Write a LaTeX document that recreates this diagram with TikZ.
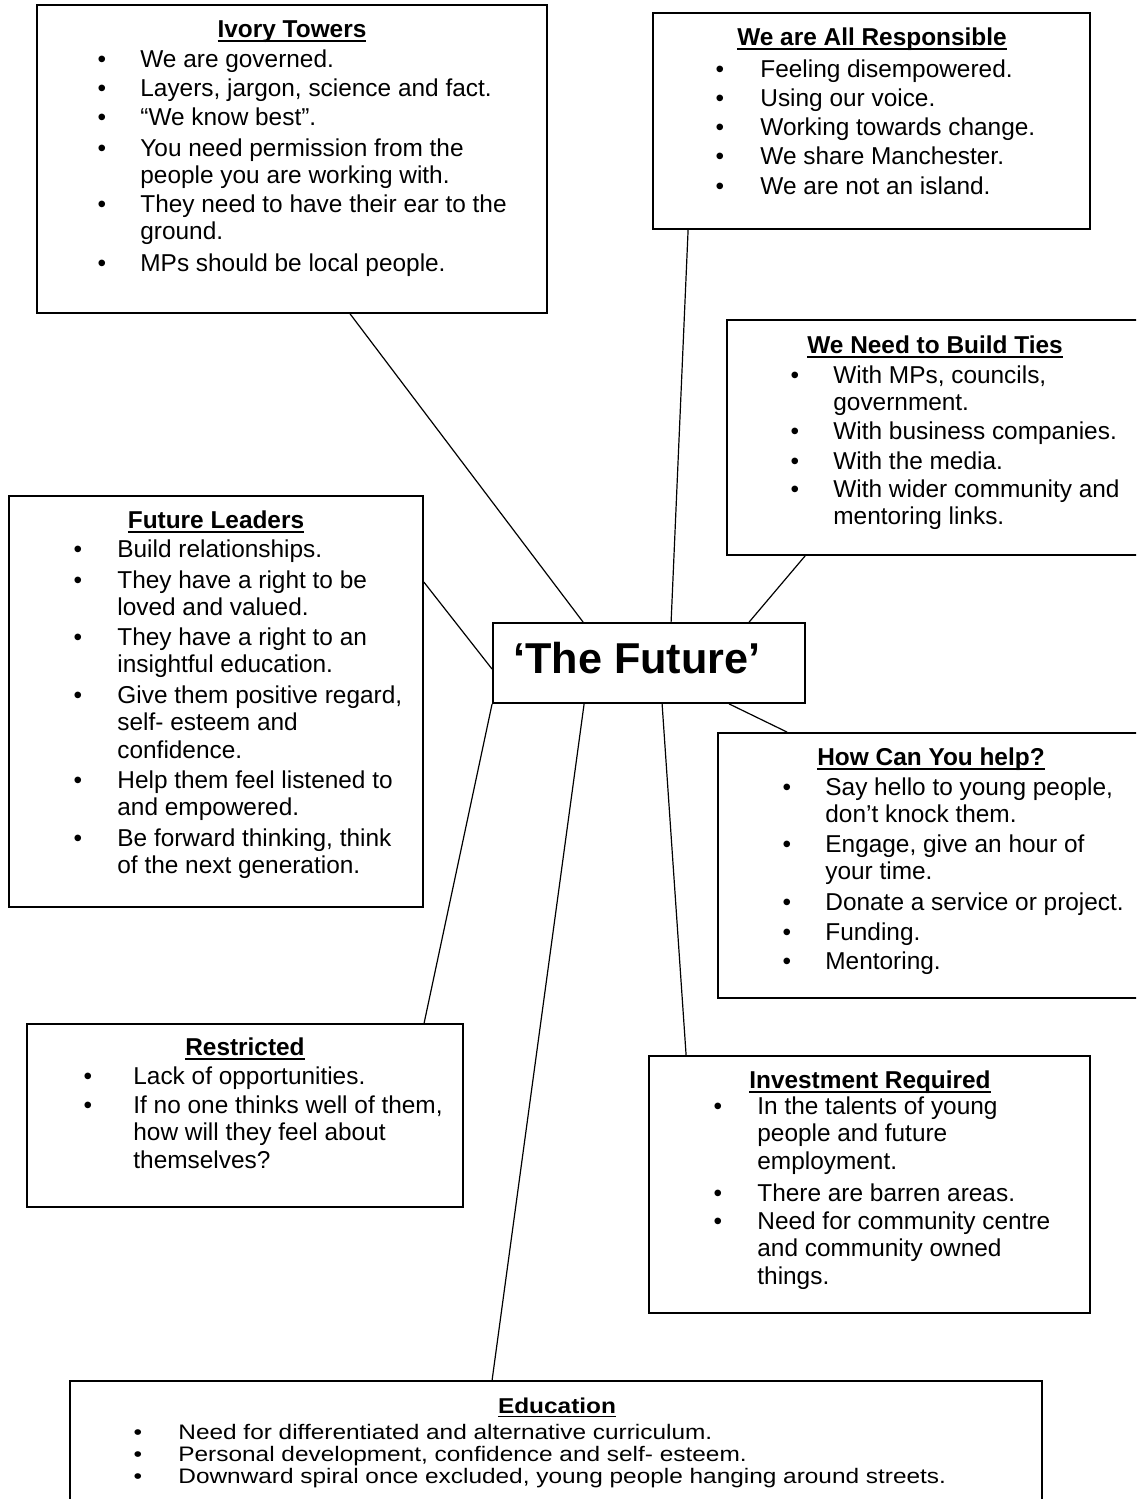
\documentclass[tikz,border=0pt]{standalone}
\usepackage{fontspec}
\usepackage{graphicx}
\setmainfont{Liberation Sans}
\usetikzlibrary{fit,calc}
\newcommand\hdul[1]{\setbox0\hbox{#1}\rlap{\usebox0}\rule[-2.4pt]{\wd0}{0.9pt}}
\tikzset{
  boxst/.style={draw, line width=0.9pt, inner sep=0pt},
  con/.style={line width=0.6pt},
  hd/.style={anchor=base, inner sep=0pt, font=\fontsize{12.2}{13.85}\selectfont\bfseries},
  bul/.style={anchor=base, inner sep=0pt, font=\fontsize{12.2}{13.85}\selectfont},
  itx/.style={anchor=base west, inner sep=0pt, font=\fontsize{12.2}{13.85}\selectfont},
  ttl/.style={anchor=base west, inner sep=0pt, font=\fontsize{21.6}{24}\selectfont\bfseries}
}
\newcommand\itm[5]{\node[bul] (#1b) at (#2,#4) {•};
  \node[itx] (#1) at (#3,#4) {\parbox[t]{400pt}{\raggedright #5}};}
\newcommand\hdn[4]{\node[hd] (#1) at (#2,#3) {\hdul{#4}};}
% slightly squeezed variants for the bottom box
\newcommand\itmq[5]{\node[bul] (#1b) at (#2,#4) {\scalebox{1}[0.86]{•}};
  \node[itx] (#1) at (#3,#4) {\scalebox{1}[0.86]{#5}};}
\newcommand\hdnq[4]{\node[hd] (#1) at (#2,#3) {\scalebox{1}[0.88]{\hdul{#4}}};}
\begin{document}
\begin{tikzpicture}[x=0.5pt,y=-0.5pt]
\useasboundingbox (0,0) rectangle (1136,1499);
\clip (0,0) rectangle (1136,1499);
% boxes
\node[boxst, fit={(37,5)(547,313)}] (ivory) {};
\node[boxst, fit={(653,13)(1090,229)}] (resp) {};
\node[boxst, fit={(727,320)(1150,555)}] (ties) {};
\node[boxst, fit={(9,496)(423,907)}] (lead) {};
\node[boxst, fit={(493,623)(805,703)}] (future) {};
\node[boxst, fit={(718,733)(1150,998)}] (help) {};
\node[boxst, fit={(27,1024)(463,1207)}] (restr) {};
\node[boxst, fit={(649,1056)(1090,1313)}] (invest) {};
\node[boxst, fit={(70,1381)(1042,1540)}] (edu) {};
% title
\node[ttl] (title) at (513,673) {‘The Future’};
% connectors
\draw[con] ($(ivory.south west)+(314,0)$) -- ($(future.north west)+(91,0)$);
\draw[con] ($(resp.south west)+(36,0)$) -- ($(future.north west)+(179,0)$);
\draw[con] ($(ties.south west)+(79,0)$) -- ($(future.north west)+(257,0)$);
\draw[con] ($(lead.north east)+(0,87)$) -- ($(future.north west)+(0,47)$);
\draw[con] ($(future.south west)+(237,0)$) -- ($(help.north west)+(70,0)$);
\draw[con] ($(future.south west)+(170,0)$) -- ($(invest.north west)+(38,0)$);
\draw[con] ($(future.south west)+(92,0)$) -- ($(edu.north west)+(423,0)$);
\draw[con] (future.south west) -- ($(restr.north west)+(398,0)$);
% Ivory Towers
\hdn{ivh}{292}{37}{Ivory Towers}
\itm{iv1}{102}{140}{67}{We are governed.}
\itm{iv2}{102}{140}{96}{Layers, jargon, science and fact.}
\itm{iv3}{102}{140}{125}{“We know best”.}
\itm{iv4}{102}{140}{156}{You need permission from the\\people you are working with.}
\itm{iv5}{102}{140}{212}{They need to have their ear to the\\ground.}
\itm{iv6}{102}{140}{271}{MPs should be local people.}
% We are All Responsible
\hdn{rsh}{872}{45}{We are All Responsible}
\itm{rs1}{720}{760}{77}{Feeling disempowered.}
\itm{rs2}{720}{760}{106}{Using our voice.}
\itm{rs3}{720}{760}{135}{Working towards change.}
\itm{rs4}{720}{760}{164}{We share Manchester.}
\itm{rs5}{720}{760}{194}{We are not an island.}
% We Need to Build Ties
\hdn{tih}{935}{353}{We Need to Build Ties}
\itm{ti1}{795}{833}{383}{With MPs, councils,\\government.}
\itm{ti2}{795}{833}{439}{With business companies.}
\itm{ti3}{795}{833}{469}{With the media.}
\itm{ti4}{795}{833}{497}{With wider community and\\mentoring links.}
% Future Leaders
\hdn{leh}{216}{528}{Future Leaders}
\itm{le1}{78}{117}{557}{Build relationships.}
\itm{le2}{78}{117}{588}{They have a right to be\\loved and valued.}
\itm{le3}{78}{117}{645}{They have a right to an\\insightful education.}
\itm{le4}{78}{117}{703}{Give them positive regard,\\self- esteem and\\confidence.}
\itm{le5}{78}{117}{788}{Help them feel listened to\\and empowered.}
\itm{le6}{78}{117}{846}{Be forward thinking, think\\of the next generation.}
% How Can You help?
\hdn{hph}{931}{765}{How Can You help?}
\itm{hp1}{787}{825}{795}{Say hello to young people,\\don’t knock them.}
\itm{hp2}{787}{825}{852}{Engage, give an hour of\\your time.}
\itm{hp3}{787}{825}{910}{Donate a service or project.}
\itm{hp4}{787}{825}{940}{Funding.}
\itm{hp5}{787}{825}{969}{Mentoring.}
% Restricted
\hdn{reh}{245}{1055}{Restricted}
\itm{re1}{88}{133}{1084}{Lack of opportunities.}
\itm{re2}{88}{133}{1113}{If no one thinks well of them,\\how will they feel about\\themselves?}
% Investment Required
\hdn{inh}{870}{1088}{Investment Required}
\itm{in1}{718}{757}{1114}{In the talents of young\\people and future\\employment.}
\itm{in2}{718}{757}{1201}{There are barren areas.}
\itm{in3}{718}{757}{1229}{Need for community centre\\and community owned\\things.}
% Education
\hdnq{edh}{557}{1413}{Education}
\itmq{ed1}{138}{178}{1439}{Need for differentiated and alternative curriculum.}
\itmq{ed2}{138}{178}{1461}{Personal development, confidence and self- esteem.}
\itmq{ed3}{138}{178}{1483}{Downward spiral once excluded, young people hanging around streets.}
\end{tikzpicture}
\end{document}
